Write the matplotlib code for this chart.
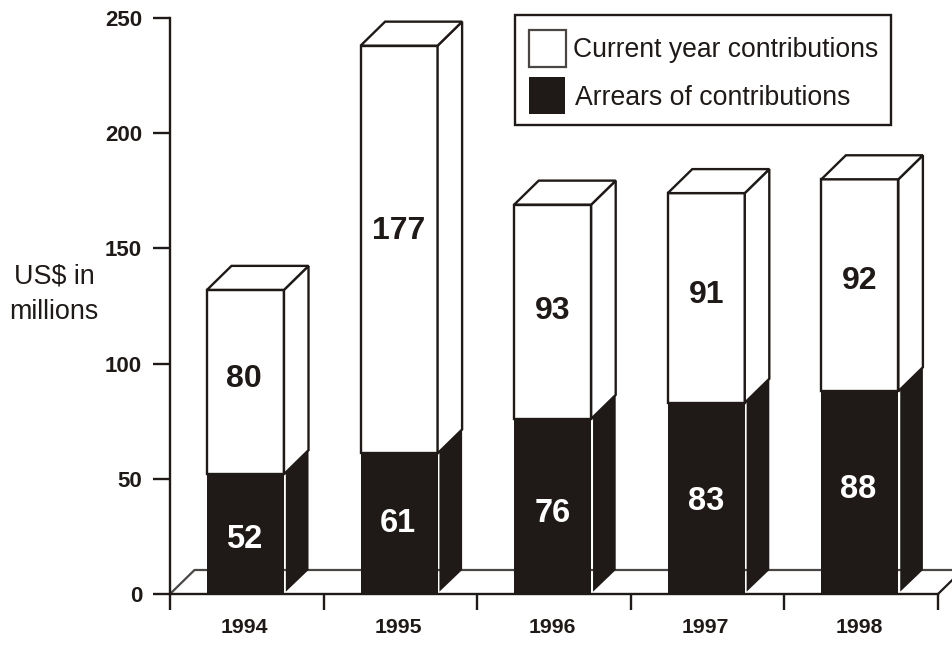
#!/usr/bin/python
import matplotlib
matplotlib.use('Agg')
import matplotlib.pyplot as plt
from matplotlib.patches import Polygon, Rectangle

plt.rcParams['font.family'] = ['Liberation Sans', 'DejaVu Sans']

years = ['1994', '1995', '1996', '1997', '1998']
arrears = [52, 61, 76, 83, 88]
current = [80, 177, 93, 91, 92]
yticks = [0, 50, 100, 150, 200, 250]

black = '#1f1a17'
W, H = 952, 645

fig = plt.figure(figsize=(W / 100, H / 100), dpi=100)
ax = fig.add_axes([170 / W, 1 - 594 / H, (938 - 170) / W, (594 - 18) / H])
ax.set_xlim(0, 5)
ax.set_ylim(0, 250)

# depth of the fake 3d, in data units
dx = 24.5 / 153.6
dy = 24 / 2.304
bar_l = 37 / 153.6
bar_w = 77 / 153.6

# floor
ax.plot([0, dx, 5 + dx], [0, dy, dy], color='#4a4644', lw=1.6, zorder=1, clip_on=False)
ax.plot([5, 5 + dx], [0, dy], color=black, lw=1.6, zorder=1, clip_on=False)

# labels don't sit exactly in the middle of the segments
arrears_shift = [-2.5, 0, -3.2, -1.3, 1.2]
current_shift = [1.5, 8, 0.5, 1.3, 2]
arrears_nudge = [-1, -1, 0, 0, -2]
current_nudge = [-2, 0, 0, 0, 0]

for i in range(len(years)):
    x0 = i + bar_l
    x1 = x0 + bar_w
    a = arrears[i]
    t = a + current[i]

    # white box + side + lid
    ax.add_patch(Rectangle((x0, a), bar_w, current[i], fc='white', ec=black, lw=1.7, zorder=3))
    ax.add_patch(Polygon([(x1, a), (x1 + dx, a + dy), (x1 + dx, t + dy), (x1, t)], closed=True,
                         fc='white', ec=black, lw=1.7, zorder=3))
    ax.add_patch(Polygon([(x0, t), (x0 + dx, t + dy), (x1 + dx, t + dy), (x1, t)], closed=True,
                         fc='white', ec=black, lw=1.7, zorder=3))

    # dark part
    ax.add_patch(Rectangle((x0, 0), bar_w, a, fc=black, ec='none', zorder=4))
    ax.add_patch(Polygon([(x1 + 0.012, 1.0), (x1 + dx, dy), (x1 + dx, a + dy), (x1 + 0.012, a + 1.0)],
                         closed=True, fc=black, ec='none', zorder=4))

    xc = x0 + bar_w / 2
    ax.annotate(str(a), (xc, a / 2 + arrears_shift[i]), xytext=(arrears_nudge[i], 0),
                textcoords='offset pixels', color='white', fontsize=23.5, fontweight='bold',
                ha='center', va='center', zorder=6)
    ax.annotate(str(current[i]), (xc, a + current[i] / 2 + current_shift[i]), xytext=(current_nudge[i], 0),
                textcoords='offset pixels', color=black, fontsize=23, fontweight='bold',
                ha='center', va='center', zorder=6)

for s in ['top', 'right']:
    ax.spines[s].set_visible(False)
for s in ['left', 'bottom']:
    ax.spines[s].set_color(black)
    ax.spines[s].set_linewidth(1.7)
    ax.spines[s].set_zorder(2)

ax.set_yticks(yticks)
ax.set_xticks(range(6))
ax.set_xticklabels([''] * 6)
ax.tick_params(axis='y', length=12, width=1.7, color=black, labelcolor=black, pad=8, labelsize=16)
ax.tick_params(axis='x', length=11.5, width=1.7, color=black)
for lab in ax.get_yticklabels():
    lab.set_fontweight('bold')

for i, y in enumerate(years):
    ax.annotate(y, (i + 0.5, 0), xytext=(-2, -24), textcoords='offset pixels', ha='center', va='top',
                fontsize=15.3, fontweight='bold', color=black)

# legend and axis title, placed in pixels
ov = fig.add_axes([0, 0, 1, 1], zorder=10)
ov.set_xlim(0, W)
ov.set_ylim(H, 0)
ov.axis('off')
ov.patch.set_alpha(0)
ov.add_patch(Rectangle((515, 15), 376, 110, fc='white', ec=black, lw=1.7))
ov.add_patch(Rectangle((529, 30), 37, 37, fc='white', ec='#4a4644', lw=1.6))
ov.add_patch(Rectangle((529, 77), 36, 37, fc=black, ec='none'))
ov.text(573, 50, 'Current year contributions', fontsize=19.1, color=black, va='center', ha='left')
ov.text(575, 98, 'Arrears of contributions', fontsize=19.2, color=black, va='center', ha='left')
ov.text(54, 294, 'US$ in\nmillions', fontsize=19.4, color=black, va='center', ha='center', linespacing=1.5)

fig.savefig('out.png', dpi=100)
